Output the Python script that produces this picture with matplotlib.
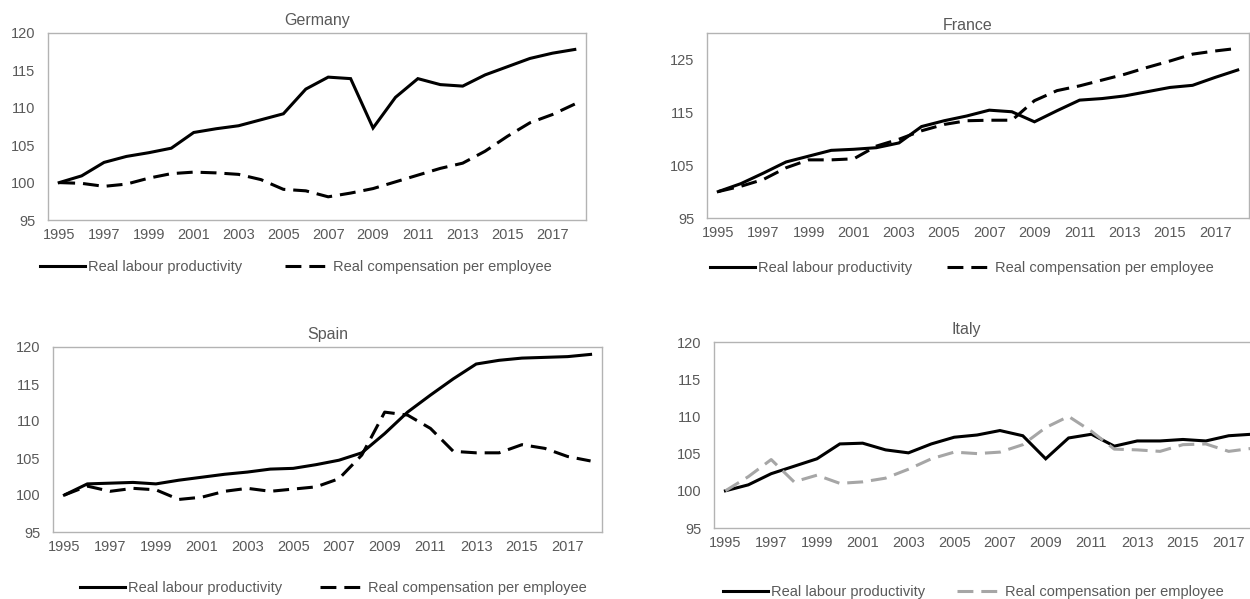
import matplotlib
matplotlib.use("Agg")
import matplotlib.pyplot as plt

plt.rcParams['font.family'] = ['Liberation Sans', 'DejaVu Sans']

years = list(range(1995, 2019))

germany_prod = [100, 100.9, 102.7, 103.5, 104.0, 104.6, 106.7, 107.2, 107.6, 108.4, 109.2, 112.5,
                114.1, 113.9, 107.3, 111.4, 113.9, 113.1, 112.9, 114.4, 115.5, 116.6, 117.3, 117.8]
germany_comp = [100, 99.9, 99.5, 99.8, 100.6, 101.2, 101.4, 101.3, 101.1, 100.4, 99.1, 98.9,
                98.1, 98.6, 99.2, 100.1, 101.0, 101.9, 102.6, 104.2, 106.2, 108.0, 109.1, 110.5]

france_prod = [100, 101.5, 103.5, 105.6, 106.7, 107.8, 108.0, 108.3, 109.2, 112.3, 113.4, 114.3,
               115.4, 115.1, 113.2, 115.3, 117.3, 117.6, 118.1, 118.9, 119.7, 120.1, 121.6, 123.0]
france_comp = [100, 101.0, 102.3, 104.5, 106.0, 106.0, 106.2, 108.6, 109.9, 111.5, 112.7, 113.4,
               113.5, 113.5, 117.2, 119.1, 120.0, 121.1, 122.2, 123.5, 124.7, 126.0, 126.6, 127.1]

spain_prod = [100, 101.5, 101.6, 101.7, 101.5, 102.0, 102.4, 102.8, 103.1, 103.5, 103.6, 104.1,
              104.7, 105.7, 108.3, 111.2, 113.5, 115.7, 117.7, 118.2, 118.5, 118.6, 118.7, 119.0]
spain_comp = [100, 101.2, 100.5, 100.9, 100.7, 99.4, 99.7, 100.5, 100.9, 100.5, 100.8, 101.1,
              102.2, 105.4, 111.2, 110.8, 109.0, 105.9, 105.7, 105.7, 106.8, 106.3, 105.2, 104.6]

italy_prod = [100, 100.8, 102.3, 103.3, 104.3, 106.3, 106.4, 105.5, 105.1, 106.3, 107.2, 107.5,
              108.1, 107.4, 104.3, 107.1, 107.6, 106.0, 106.7, 106.7, 106.9, 106.7, 107.4, 107.6]
italy_comp = [100, 101.9, 104.2, 101.2, 102.1, 101.0, 101.2, 101.7, 102.9, 104.3, 105.2, 105.0,
              105.2, 106.2, 108.5, 110.0, 108.0, 105.6, 105.5, 105.3, 106.2, 106.3, 105.3, 105.7]

W, H = 1250, 599
fig = plt.figure(figsize=(W / 100, H / 100), dpi=100)

TXT = "#595959"
SPINE = "#b3b3b3"
DASH = (5.2, 2.6)
FS = 10.5


def make_axes(left, right, top, bottom):
    return fig.add_axes([left / W, 1 - bottom / H, (right - left) / W, (bottom - top) / H])


def panel(ax, title, prod, comp, ylim, yticks, comp_color, title_x, title_pad,
          leg_x, leg_y, colspace):
    x = list(range(len(years)))
    l1, = ax.plot(x, prod, color="black", lw=2.2, solid_joinstyle="miter")
    l2, = ax.plot(x, comp, color=comp_color, lw=2.2, dashes=DASH)
    ax.set_xlim(-0.5, len(years) - 0.5)
    ax.set_ylim(*ylim)
    ax.set_yticks(yticks)
    ax.set_xticks(x[::2])
    ax.set_xticklabels([str(y) for y in years[::2]])
    ax.tick_params(length=0, labelsize=FS, colors=TXT)
    ax.tick_params(axis="y", pad=9)
    ax.tick_params(axis="x", pad=6)
    for s in ax.spines.values():
        s.set_color(SPINE)
        s.set_linewidth(1.0)
    ax.set_title(title, color=TXT, fontsize=11.5, x=title_x, pad=title_pad)
    fig.legend([l1, l2], ["Real labour productivity", "Real compensation per employee"],
               loc="center left", bbox_to_anchor=(leg_x / W, 1 - leg_y / H), ncol=2,
               frameon=False, fontsize=FS, labelcolor=TXT, handlelength=3.1,
               handletextpad=0.2, columnspacing=colspace, borderpad=0, borderaxespad=0)


ax_de = make_axes(48, 586, 33, 220)
panel(ax_de, "Germany", germany_prod, germany_comp, (95, 120), range(95, 121, 5), "black",
      0.5, 6, 40, 267, 2.9)

ax_fr = make_axes(707, 1249, 33, 218)
panel(ax_fr, "France", france_prod, france_comp, (95, 130), range(95, 126, 10), "black",
      0.48, 2, 710, 268, 2.4)

ax_es = make_axes(53, 602, 347, 532)
panel(ax_es, "Spain", spain_prod, spain_comp, (95, 120), range(95, 121, 5), "black",
      0.5, 6, 80, 588, 2.6)

ax_it = make_axes(714, 1263, 342, 528)
panel(ax_it, "Italy", italy_prod, italy_comp, (95, 120), range(95, 121, 5), "#a6a6a6",
      0.459, 6, 723, 592, 2.2)

fig.savefig("out.png", dpi=100)
